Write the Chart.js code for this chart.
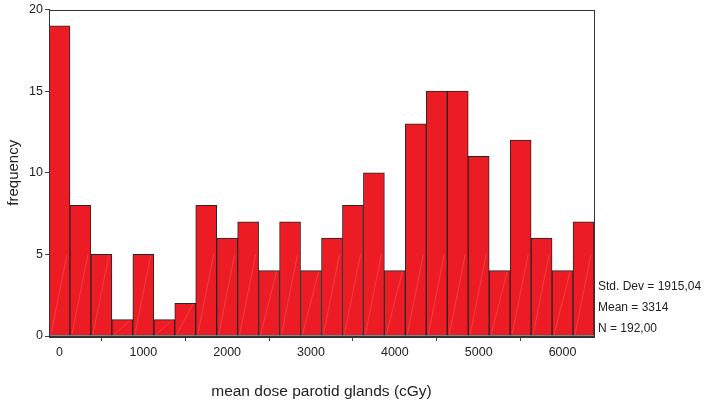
<!DOCTYPE html>
<html><head><meta charset="utf-8">
<script src="https://cdn.jsdelivr.net/npm/chart.js@4/dist/chart.umd.min.js"></script>
<style>html,body{margin:0;padding:0;background:#fff;}#c{display:block;}</style>
</head><body>
<canvas id="c" width="704" height="404"></canvas>
<script>
const binCenters = [0,250,500,750,1000,1250,1500,1750,2000,2250,2500,2750,3000,3250,3500,3750,4000,4250,4500,4750,5000,5250,5500,5750,6000,6250];
const frequencies = [19,8,5,1,5,1,2,8,6,7,4,7,4,6,8,10,4,13,15,15,11,4,12,6,4,7];
const xTickValues = [0,1000,2000,3000,4000,5000,6000];
const yTickValues = [0,5,10,15,20];
const statLines = ["Std. Dev = 1915,04","Mean = 3314","N = 192,00"];
const xTitle = "mean dose parotid glands (cGy)";
const yTitle = "frequency";

const FONT = "'Liberation Sans', Arial, sans-serif";

const framePlugin = {
  id:'frame',
  afterDatasetsDraw(chart){
    const {ctx, chartArea:a} = chart;
    ctx.save();
    const meta = chart.getDatasetMeta(0);
    ctx.strokeStyle='rgba(255,150,150,0.4)';
    ctx.lineWidth=0.7;
    meta.data.forEach(bar=>{
      const p = bar.getProps(['x','y','base','width'], true);
      const l = p.x - p.width/2 + 2, r = p.x + p.width/2 - 3;
      const h = p.base - p.y;
      const rise = Math.min(h - 2, 80);
      ctx.beginPath();
      ctx.moveTo(l, p.base-1);
      ctx.lineTo(r, p.base-1-rise);
      ctx.stroke();
    });
    ctx.strokeStyle='#333';
    ctx.lineWidth=1;
    ctx.strokeRect(Math.round(a.left)+0.5, Math.round(a.top)+0.5, Math.round(a.right-a.left), Math.round(a.bottom-a.top));
    ctx.restore();
  },
  afterDraw(chart){
    const {ctx, chartArea:a} = chart;
    ctx.save();
    ctx.fillStyle='#222';
    ctx.font = "12px " + FONT;
    ctx.textAlign='left';
    ctx.textBaseline='middle';
    const n = statLines.length;
    statLines.forEach((s,i)=>{
      ctx.fillText(s, a.right+4, a.bottom - 7 - (n-1-i)*21);
    });
    ctx.restore();
  }
};

new Chart(document.getElementById('c'), {
  type:'bar',
  data:{
    datasets:[{
      data: binCenters.map((x,i)=>({x:x, y:frequencies[i]})),
      backgroundColor:'#ED1C24',
      borderColor:'#262626',
      borderWidth:1,
      barPercentage:1,
      categoryPercentage:1,
      borderSkipped:false
    }]
  },
  options:{
    responsive:false,
    animation:false,
    layout:{padding:{top:7,right:110,left:0,bottom:0}},
    plugins:{legend:{display:false},tooltip:{enabled:false}},
    scales:{
      x:{
        type:'linear',
        min:-125,max:6375,
        offset:false,
        grid:{display:true,drawOnChartArea:false,drawTicks:true,tickLength:5,color:'#444'},
        border:{display:true,color:'#333'},
        afterBuildTicks(scale){ scale.ticks = xTickValues.map(v=>({value:v})); },
        ticks:{font:{family:FONT,size:12.5},color:'#222',padding:4,maxRotation:0,callback:(v)=>String(v)},
        title:{display:true,text:xTitle,font:{family:FONT,size:15.5},color:'#222',padding:{top:0,bottom:3}},
        afterFit(scale){ scale.height = 68; }
      },
      y:{
        type:'linear',
        min:0,max:20,
        grid:{display:true,drawOnChartArea:false,drawTicks:true,tickLength:4,color:'#444'},
        border:{display:true,color:'#333'},
        afterBuildTicks(scale){ scale.ticks = yTickValues.map(v=>({value:v})); },
        ticks:{font:{family:FONT,size:12.5},color:'#222',padding:2,callback:(v)=>String(v)},
        title:{display:true,text:yTitle,font:{family:FONT,size:15},color:'#222',padding:{top:5,bottom:0}},
        afterFit(scale){ scale.width = 49; }
      }
    }
  },
  plugins:[framePlugin]
});
</script>
</body></html>
